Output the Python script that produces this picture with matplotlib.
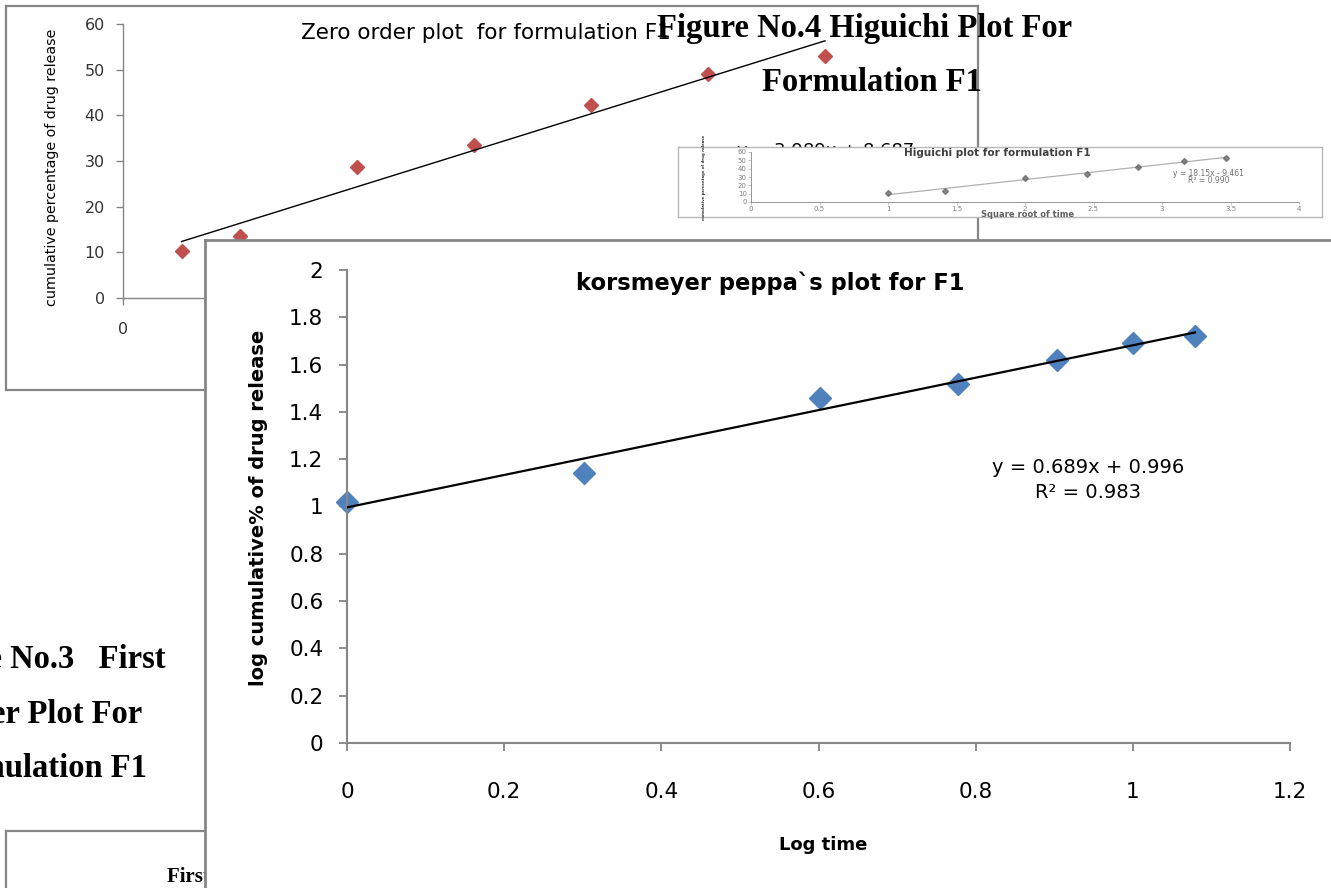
import matplotlib.pyplot as plt
import numpy as np

W, H = 1331, 888

# release data (time points 1, 2, 4, 6, 8, 10, 12 h)
time_h = [1, 2, 4, 6, 8, 10, 12]
cum_release = [10.3, 13.6, 28.6, 33.5, 42.3, 49.1, 53.0]
sqrt_time = [1.0, 1.414, 2.0, 2.449, 2.828, 3.162, 3.464]
log_time = [0.0, 0.301, 0.602, 0.778, 0.903, 1.0, 1.079]
log_release = [1.02, 1.14, 1.46, 1.52, 1.62, 1.69, 1.72]

# equations as printed on the charts
zero_eq = (3.989, 8.687)
hig_eq = (18.15, -9.461, 0.990)
kp_eq = (0.689, 0.996, 0.983)

zero_yticks = [0, 10, 20, 30, 40, 50, 60]
zero_xticks = [0, 2, 4, 6, 8, 10, 12, 14]
hig_xticks = [0, 0.5, 1, 1.5, 2, 2.5, 3, 3.5, 4]
hig_yticks = [0, 10, 20, 30, 40, 50, 60]
kp_yticks = [0, 0.2, 0.4, 0.6, 0.8, 1, 1.2, 1.4, 1.6, 1.8, 2]
kp_xticks = [0, 0.2, 0.4, 0.6, 0.8, 1, 1.2]

GRID = '#868686'


def rect(l, t, r, b):
    # pixel box (top-left origin) -> figure fraction
    return [l / W, 1 - b / H, (r - l) / W, (b - t) / H]


def fx(px):
    return px / W


def fy(py):
    return 1 - py / H


def panel(l, t, r, b, z, ec=GRID, lw=1.6):
    ax = fig.add_axes(rect(l, t, r, b), zorder=z)
    ax.set_xticks([])
    ax.set_yticks([])
    ax.set_facecolor('white')
    for s in ax.spines.values():
        s.set_edgecolor(ec)
        s.set_linewidth(lw)
    return ax


def plot_axes(l, t, r, b, z, lw=1.0):
    ax = fig.add_axes(rect(l, t, r, b), zorder=z)
    ax.patch.set_alpha(0)
    ax.spines['top'].set_visible(False)
    ax.spines['right'].set_visible(False)
    for s in ['left', 'bottom']:
        ax.spines[s].set_color(GRID)
        ax.spines[s].set_linewidth(lw)
    return ax


def fmt(v):
    return f'{v:g}'


fig = plt.figure(figsize=(W / 100, H / 100), dpi=100)
plt.rcParams['font.family'] = 'DejaVu Sans'

# ------------------------------------------------------------
# Zero order plot (back)
# ------------------------------------------------------------
panel(6, 6, 978, 390, 1)
ax0 = plot_axes(123, 24, 942, 298, 2)
ax0.set_xlim(0, 14)
ax0.set_ylim(0, 60)
ax0.plot(time_h, cum_release, 'D', color='#C0504D', ms=7, mec='#C0504D')
k0 = np.polyfit(time_h, cum_release, 1)
t_fit = np.array([time_h[0], time_h[-1]])
ax0.plot(t_fit, np.polyval(k0, t_fit), color='black', lw=1.0)
ax0.set_yticks(zero_yticks, [fmt(v) for v in zero_yticks])
ax0.set_xticks(zero_xticks, [fmt(v) for v in zero_xticks])
ax0.tick_params(axis='y', direction='out', length=5, width=1, color=GRID,
                labelsize=11.5, labelcolor='#333333', pad=8)
ax0.tick_params(axis='x', direction='out', length=5, width=1, color=GRID,
                labelsize=11.5, labelcolor='#333333', pad=12)
fig.text(fx(301), fy(39), 'Zero order plot  for formulation F1', fontsize=15.5,
         va='baseline', ha='left', zorder=2.2)
fig.text(fx(52), fy(167), 'cumulative percentage of drug release', fontsize=10.3,
         rotation=90, va='center', ha='center', zorder=2.2)
# equation label, mostly hidden behind the Higuichi inset
fig.text(fx(737), fy(156), f'y = {zero_eq[0]:.3f}x + {zero_eq[1]:.3f}', fontsize=13,
         va='baseline', ha='left', zorder=2.2)

# Figure No.4 caption (over zero order chart)
fig.text(fx(657), fy(37), 'Figure No.4 Higuichi Plot For', fontsize=23.5,
         family='Liberation Serif', weight='bold', va='baseline', ha='left', zorder=2.5)
fig.text(fx(762), fy(91), 'Formulation F1', fontsize=23.5,
         family='Liberation Serif', weight='bold', va='baseline', ha='left', zorder=2.5)

# ------------------------------------------------------------
# Higuichi plot (small blurred inset)
# ------------------------------------------------------------
panel(678, 147, 1322, 217, 4, ec='#b8b8b8', lw=1.0)
axh = plot_axes(751, 152, 1299, 202, 4.5, lw=0.6)
axh.set_xlim(0, 4)
axh.set_ylim(0, 60)
kh = np.polyfit(sqrt_time, cum_release, 1)
s_fit = np.array([sqrt_time[0], sqrt_time[-1]])
axh.plot(s_fit, np.polyval(kh, s_fit), color='#b0b0b0', lw=0.9)
axh.plot(sqrt_time, cum_release, 'D', color='#6a6a6a', ms=3, alpha=0.8)
axh.set_xticks(hig_xticks, [fmt(v) for v in hig_xticks])
axh.set_yticks(hig_yticks, [fmt(v) for v in hig_yticks])
axh.tick_params(direction='out', length=2, width=0.5, color='#b0b0b0',
                labelsize=5, labelcolor='#808080', pad=1)
axh.text(0.45, 0.99, 'Higuichi plot for formulation F1', transform=axh.transAxes,
         fontsize=7.5, weight='bold', color='#404040', ha='center', va='center')
axh.text(fx(1028), fy(214.5), 'Square root of time', transform=fig.transFigure,
         fontsize=6, weight='bold', color='#606060', ha='center', va='center')
axh.text(-0.085, 0.5, 'cumulative percentage of drug release', transform=axh.transAxes,
         fontsize=2.8, color='#303030', weight='bold', rotation=90, ha='center', va='center')
axh.text(0.835, 0.5, f'y = {hig_eq[0]:.2f}x - {abs(hig_eq[1]):.3f}\nR² = {hig_eq[2]:.3f}',
         transform=axh.transAxes, fontsize=5.5, color='#707070', ha='center',
         va='center', linespacing=0.75)

# ------------------------------------------------------------
# First order plot (bottom left, mostly hidden)
# ------------------------------------------------------------
panel(6, 831, 400, 900, 3)
fig.text(fx(167), fy(882), 'First order plot for formulation F1', fontsize=15,
         family='Liberation Serif', weight='bold', va='baseline', ha='left', zorder=3.2)

# Figure No.3 caption (cut at left edge)
cap3 = ['Figure No.3   First', 'Order Plot For', 'Formulation F1']
cap3_right = [166, 142, 147]
cap3_base = [668, 723, 777]
for txt, xr, yb in zip(cap3, cap3_right, cap3_base):
    fig.text(fx(xr), fy(yb), txt, fontsize=23.5, family='Liberation Serif',
             weight='bold', va='baseline', ha='right', zorder=3.2)

# ------------------------------------------------------------
# Korsmeyer-Peppas plot (front)
# ------------------------------------------------------------
panel(205, 240, 1345, 900, 6, lw=2.0)
ax = plot_axes(347, 270, 1290, 743, 7, lw=1.5)
ax.set_xlim(0, 1.2)
ax.set_ylim(0, 2)
kk = np.polyfit(log_time, log_release, 1)
l_fit = np.array([log_time[0], log_time[-1]])
ax.plot(l_fit, np.polyval(kk, l_fit), color='black', lw=1.6, zorder=3)
ax.plot(log_time, log_release, 'D', color='#4F81BD', ms=11, zorder=2, clip_on=False)
ax.set_yticks(kp_yticks, [fmt(v) for v in kp_yticks])
ax.set_xticks(kp_xticks, [fmt(v) for v in kp_xticks])
ax.tick_params(axis='y', direction='out', length=6, width=1.3, color=GRID,
               labelsize=15.5, pad=11)
ax.tick_params(axis='x', direction='out', length=6, width=1.3, color=GRID,
               labelsize=15.5, pad=22)

ax.text(fx(770), fy(283), 'korsmeyer peppa`s plot for F1', transform=fig.transFigure,
        fontsize=16.3, weight='bold', ha='center', va='center')
ax.text(fx(258), fy(508), 'log cumulative% of drug release', transform=fig.transFigure,
        fontsize=14, weight='bold', rotation=90, ha='center', va='center')
ax.text(fx(823), fy(845), 'Log time', transform=fig.transFigure,
        fontsize=13, weight='bold', ha='center', va='center')
ax.text(fx(1088), fy(480), f'y = {kp_eq[0]:.3f}x + {kp_eq[1]:.3f}\nR² = {kp_eq[2]:.3f}',
        transform=fig.transFigure, fontsize=14, ha='center',
        va='center', linespacing=1.45)

fig.savefig('out.png', dpi=100)
